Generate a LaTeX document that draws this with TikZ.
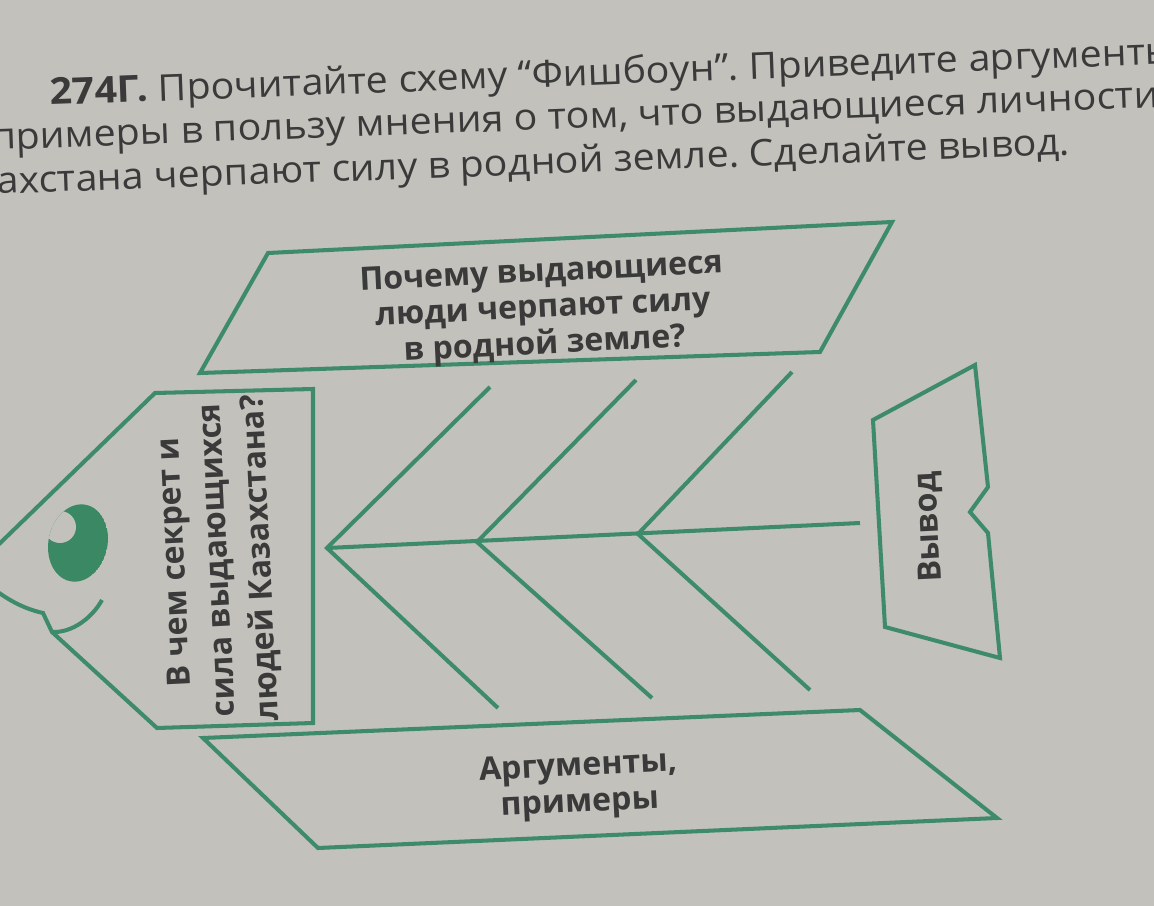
\documentclass[tikz,border=0pt]{standalone}
\usepackage{fontspec}
\setmainfont{Open Sans}
\frenchspacing
\definecolor{bgc}{HTML}{C2C1BC}
\definecolor{grn}{HTML}{3E8B6B}
\definecolor{eyec}{HTML}{3A8864}
\definecolor{txt}{HTML}{3A3A3A}
\tikzset{
  bone/.style={draw=grn, line width=2.3pt, line join=miter},
  hdr/.style={inner sep=0pt, text=txt, font=\fontsize{21}{25}\selectfont, anchor=base west, rotate=2.1, xscale=1.066},
  boxtxt/.style={inner sep=0pt, text=txt, align=center, font=\bfseries\fontsize{18.3}{20.5}\selectfont, rotate=2.8},
}
\begin{document}
\begin{tikzpicture}[x=0.02cm,y=-0.02cm]
\useasboundingbox (0,0) rectangle (1154,906);
\clip (0,0) rectangle (1154,906);
\fill[bgc] (-10,-10) rectangle (1164,916);

% header
\node[hdr] (t1) at (50,105) {\textbf{274Г.} Прочитайте схему “Фишбоун”. Приведите аргументы};
\node[hdr] (t2) at (-8,150) {примеры в пользу мнения о том, что выдающиеся личности};
\node[hdr] (t3) at (-3,194) {ахстана черпают силу в родной земле. Сделайте вывод.};

% coordinates
\coordinate (qa) at (268,253); \coordinate (qb) at (892,222);
\coordinate (qc) at (820,352); \coordinate (qd) at (200,373);
\coordinate (aa) at (203,738); \coordinate (ab) at (860,710);
\coordinate (ac) at (997,818); \coordinate (ad) at (318,848);
\coordinate (v1) at (327,548); \coordinate (v2) at (477,542);
\coordinate (v3) at (638,534); \coordinate (se) at (860,523);
\coordinate (u1) at (490,387); \coordinate (u2) at (636,380); \coordinate (u3) at (792,372);
\coordinate (l1) at (498,708); \coordinate (l2) at (652,698); \coordinate (l3) at (810,690);

% question box
\draw[bone] (qa) -- (qb) -- (qc) -- (qd) -- cycle;
\node[boxtxt] (q) at (543,310) {Почему выдающиеся\\люди черпают силу\\в родной земле?};

% head
\draw[bone] (-5,548) -- (155,393) -- (313,389) -- (313,723) -- (157,728) -- (52,632) -- (43,613)
  .. controls (25,609) and (10,601) .. (-5,590);
\draw[bone] (52,632) .. controls (72,633) and (92,618) .. (102,600);
\begin{scope}
  \clip[shift={(78,543)}, rotate=-12] (0,0) ellipse [x radius=0.59cm, y radius=0.78cm];
  \fill[eyec, shift={(78,543)}, rotate=-12] (0,0) ellipse [x radius=0.59cm, y radius=0.78cm];
  \fill[bgc] (60,527) circle [radius=0.32cm];
\end{scope}
\node[boxtxt, rotate=90, font=\bfseries\fontsize{18.3}{24.5}\selectfont] (h) at (219,560)
  {В чем секрет и\\сила выдающихся\\людей Казахстана?};

% fishbone
\draw[bone] (v1) -- (se);
\draw[bone] (u1) -- (v1) -- (l1);
\draw[bone] (u2) -- (v2) -- (l2);
\draw[bone] (u3) -- (v3) -- (l3);

% tail
\draw[bone] (873,420) -- (975,365) -- (988,487) -- (970,512) -- (988,533) -- (1000,658) -- (885,627) -- cycle;
\node[boxtxt, rotate=90] (w) at (930,527) {Вывод};

% arguments box
\draw[bone] (aa) -- (ab) -- (ac) -- (ad) -- cycle;
\node[boxtxt] (a) at (579,786) {Аргументы,\\примеры};
\end{tikzpicture}
\end{document}
